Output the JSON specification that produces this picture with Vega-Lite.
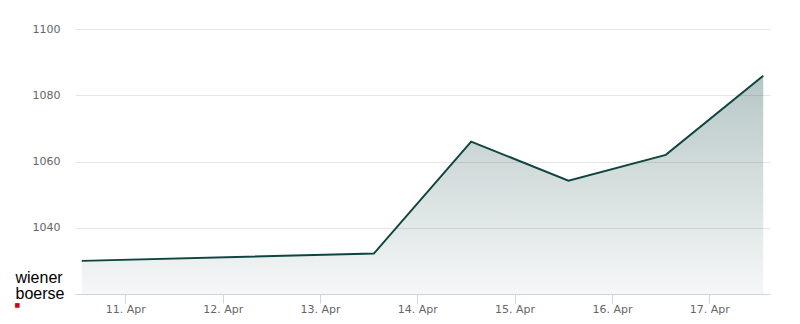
{
  "$schema": "https://vega.github.io/schema/vega-lite/v6.json",
  "width": 695,
  "height": 265,
  "autosize": {"type": "none"},
  "padding": {"left": 75, "top": 29, "right": 30, "bottom": 30},
  "background": "#ffffff",
  "config": {"view": {"stroke": null}},
  "data": {
    "values": [
      {"date": "2020-04-10T13:15:00Z", "value": 1030.0},
      {"date": "2020-04-13T13:17:00Z", "value": 1032.2},
      {"date": "2020-04-14T13:17:00Z", "value": 1066.0},
      {"date": "2020-04-15T13:17:00Z", "value": 1054.2},
      {"date": "2020-04-16T13:17:00Z", "value": 1062.0},
      {"date": "2020-04-17T13:19:00Z", "value": 1085.9}
    ]
  },
  "encoding": {
    "x": {
      "field": "date",
      "type": "temporal",
      "scale": {
        "type": "utc",
        "domain": ["2020-04-10T11:35:00Z", "2020-04-17T14:59:00Z"]
      },
      "axis": {
        "title": "■",
        "titleColor": "#d5001c",
        "titleFont": "DejaVu Sans",
        "titleFontSize": 6,
        "titleFontWeight": "normal",
        "titleAlign": "left",
        "titleBaseline": "bottom",
        "titleAngle": 0,
        "titleX": -61,
        "titleY": 13,
        "format": "%d. %b",
        "tickCount": {"interval": "day", "step": 1},
        "grid": false,
        "domainColor": "#ccd6eb",
        "domainWidth": 1,
        "tickColor": "#ccd6eb",
        "tickSize": 9,
        "labelFont": "DejaVu Sans",
        "labelFontSize": 11,
        "labelColor": "#666666",
        "labelPadding": 0,
        "labelFlush": false
      }
    },
    "y": {
      "field": "value",
      "type": "quantitative",
      "scale": {"domain": [1020, 1100], "nice": false, "zero": false},
      "axis": {
        "values": [1040, 1060, 1080, 1100],
        "format": "d",
        "title": ["wiener", "boerse"],
        "titleColor": "#000000",
        "titleFont": "Liberation Sans",
        "titleFontSize": 16,
        "titleFontWeight": "normal",
        "titleLineHeight": 16,
        "titleAngle": 0,
        "titleAlign": "left",
        "titleBaseline": "alphabetic",
        "titleX": -60,
        "titleY": 253,
        "domain": false,
        "ticks": false,
        "tickSize": 0,
        "labelPadding": 15,
        "labelFont": "DejaVu Sans",
        "labelFontSize": 11,
        "labelColor": "#666666",
        "gridColor": "#e6e6e6",
        "gridWidth": 1
      }
    }
  },
  "layer": [
    {
      "mark": {
        "type": "area",
        "color": {
          "gradient": "linear",
          "x1": 0, "y1": 0, "x2": 0, "y2": 1,
          "stops": [
            {"offset": 0, "color": "rgba(14,69,64,0.3)"},
            {"offset": 1, "color": "rgba(14,69,64,0.04)"}
          ]
        }
      },
      "encoding": {"y2": {"datum": 1020}}
    },
    {
      "mark": {"type": "line", "color": "#0e4540", "strokeWidth": 2}
    }
  ]
}
